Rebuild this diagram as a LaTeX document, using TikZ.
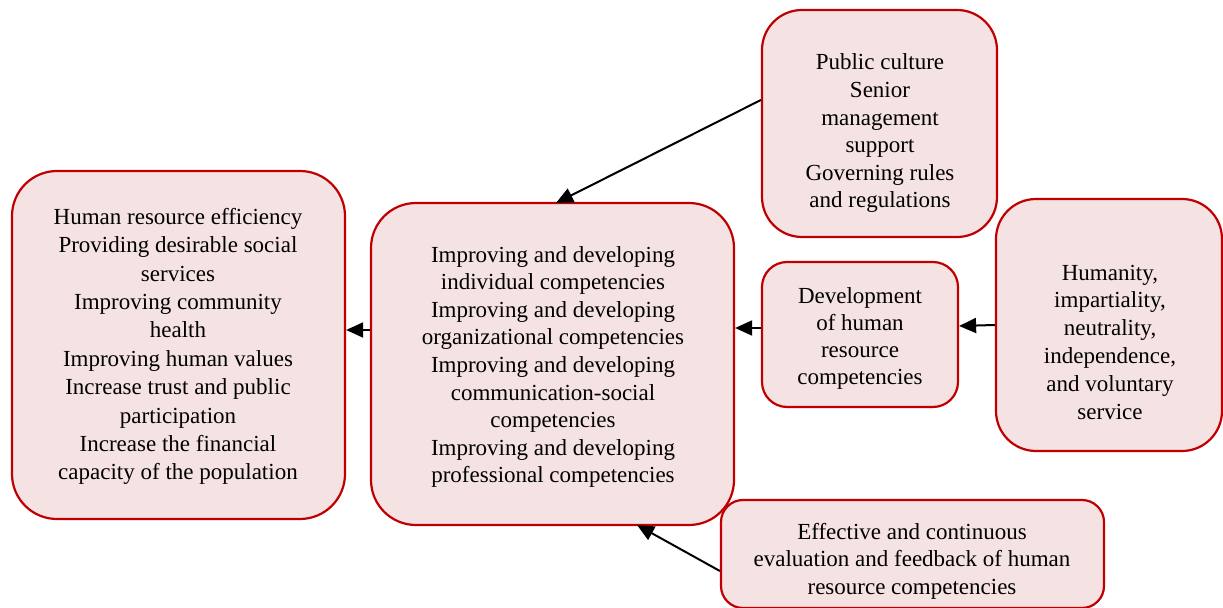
\documentclass[tikz,border=0pt]{standalone}
\usepackage{fontspec}
\setmainfont{Liberation Serif}
\usetikzlibrary{arrows.meta}
\definecolor{boxfill}{HTML}{F5E2E3}
\definecolor{boxdraw}{HTML}{C00000}
\tikzset{
  box/.style={draw=boxdraw, fill=boxfill, line width=2.2bp, inner sep=0pt},
  txt/.style={align=center, inner sep=0pt, font=\fontsize{23bp}{27.6bp}\selectfont},
  conn/.style={line width=2bp, -{Triangle[length=17bp,width=15bp]}}
}
\begin{document}
\begin{tikzpicture}[x=1bp,y=-1bp]
\useasboundingbox (0,0) rectangle (1223,608);
% boxes
\node[box, rounded corners=45bp, minimum width=333bp, minimum height=348bp] (left) at (178.5,345) {};
\node[box, rounded corners=45bp, minimum width=363bp, minimum height=322bp] (center) at (552.5,364) {};
\node[box, rounded corners=40bp, minimum width=235bp, minimum height=227bp] (top) at (879.5,123.5) {};
\node[box, rounded corners=25bp, minimum width=196bp, minimum height=145bp] (dev) at (860,334.5) {};
\node[box, rounded corners=40bp, minimum width=226bp, minimum height=252bp] (hum) at (1109,325) {};
\node[box, rounded corners=22bp, minimum width=383bp, minimum height=108bp] (bot) at (912.5,554) {};
% texts
\node[txt, font=\fontsize{23bp}{28.4bp}\selectfont] (tleft) at (178,346.5) {Human resource efficiency\\Providing desirable social\\services\\Improving community\\health\\Improving human values\\Increase trust and public\\participation\\Increase the financial\\capacity of the population};
\node[txt] (tcenter) at (553,367) {Improving and developing\\individual competencies\\Improving and developing\\organizational competencies\\Improving and developing\\communication-social\\competencies\\Improving and developing\\professional competencies};
\node[txt] (ttop) at (880,133.5) {Public culture\\Senior\\management\\support\\Governing rules\\and regulations};
\node[txt, font=\fontsize{23bp}{27.3bp}\selectfont] (tdev) at (860,338.5) {Development\\of human\\resource\\competencies};
\node[txt, font=\fontsize{23bp}{27.8bp}\selectfont] (thum) at (1110,342) {Humanity,\\impartiality,\\neutrality,\\independence,\\and voluntary\\service};
\begin{scope}
\clip (721,500) rectangle (1105,598);
\node[txt, font=\fontsize{23bp}{27.5bp}\selectfont] (tbot) at (912,561) {Effective and continuous\\evaluation and feedback of human\\resource competencies};
\end{scope}
% connectors
\coordinate (a1s) at (top.west |- 0,100);
\coordinate (a1e) at (556,203);
\draw[conn] (a1s) -- (a1e);
\draw[conn] (center.west |- 0,330) -- (left.east |- 0,330);
\draw[conn] (dev.west |- 0,328) -- (center.east |- 0,328);
\draw[conn] (hum.west |- 0,325) -- (dev.east |- 0,326);
\coordinate (a5s) at (bot.west |- 0,571);
\coordinate (a5e) at (637,525);
\draw[conn] (a5s) -- (a5e);
\end{tikzpicture}
\end{document}
